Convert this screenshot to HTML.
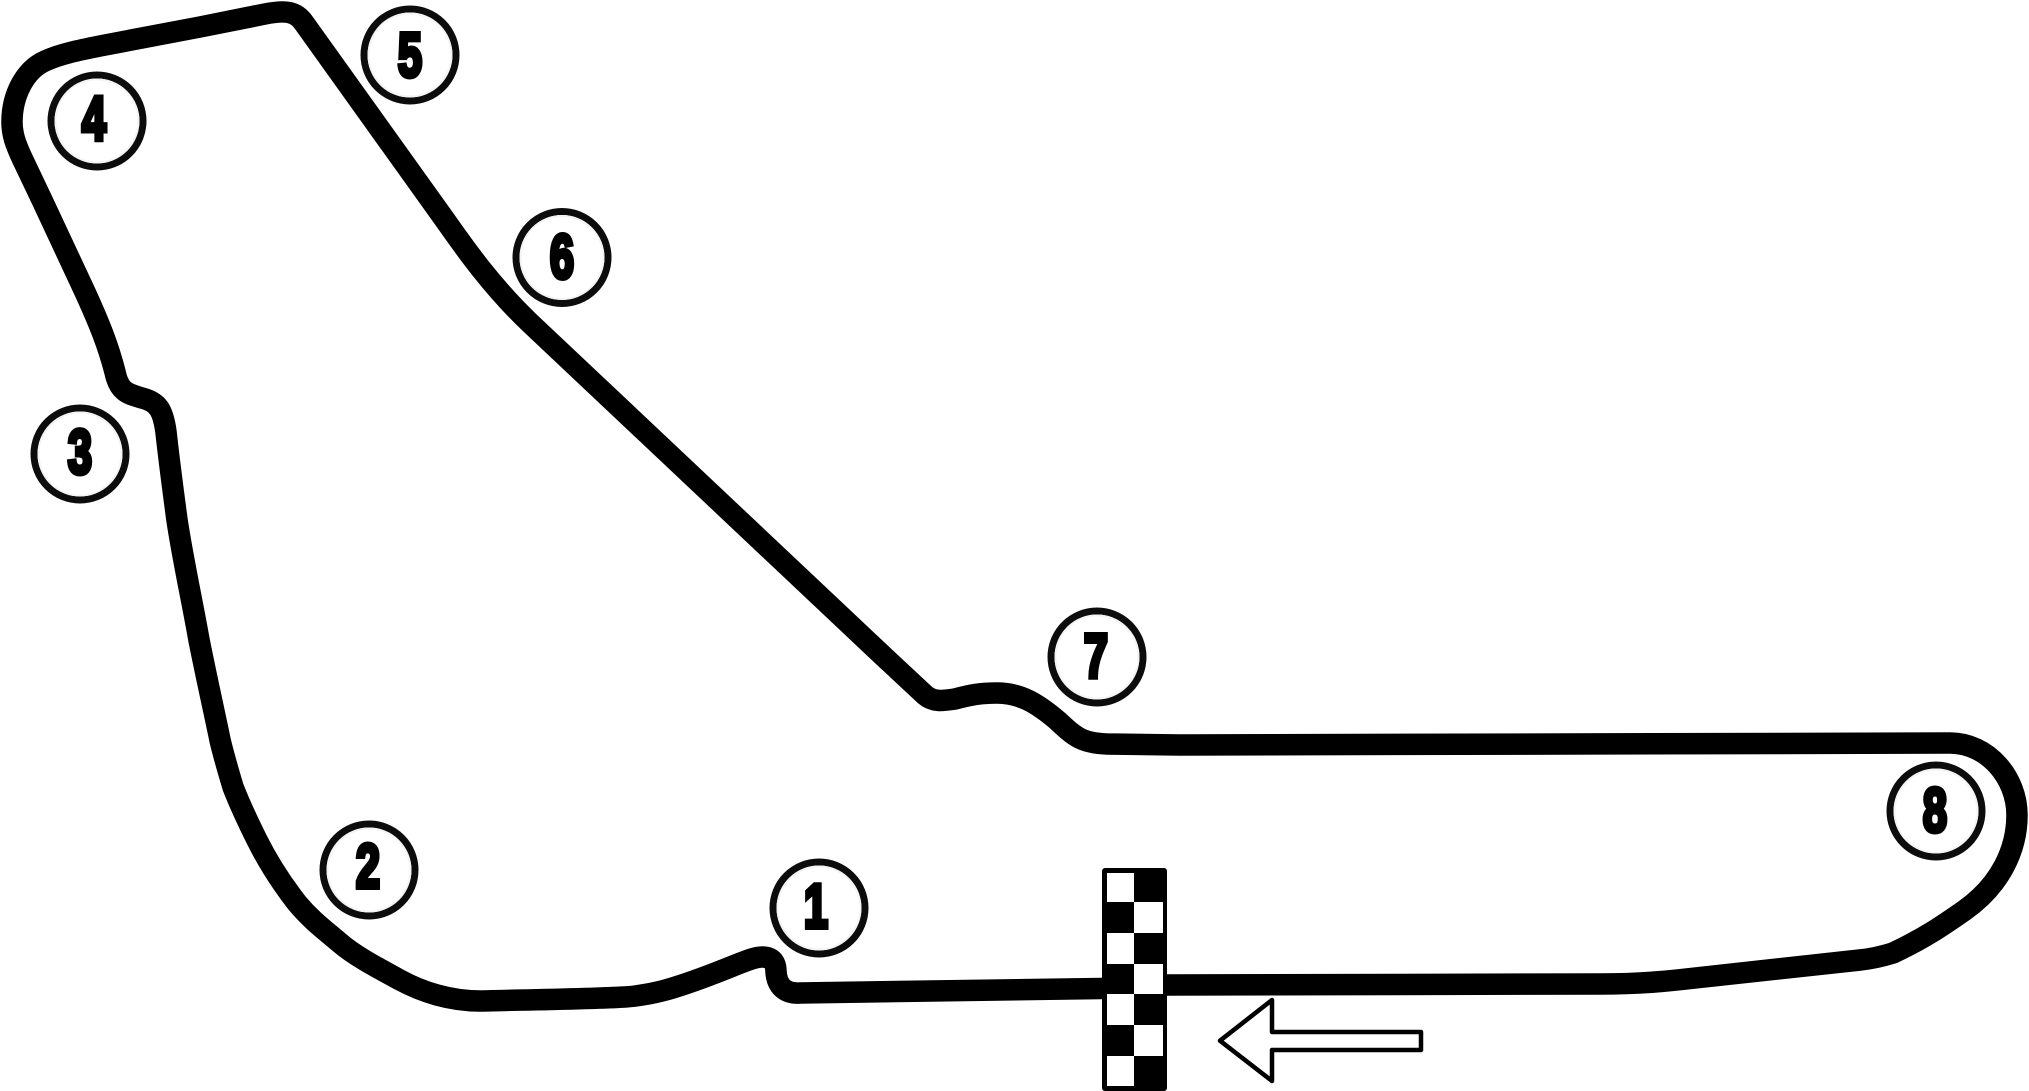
<!DOCTYPE html>
<html><head><meta charset="utf-8"><style>
html,body{margin:0;padding:0;background:#fff;width:2029px;height:1091px;overflow:hidden}
svg{display:block}
text{font-family:"Liberation Sans",sans-serif;font-weight:700;font-size:62px;text-anchor:middle;fill:#000;stroke:#000;stroke-width:5px}
</style></head><body>
<svg width="2029" height="1091" viewBox="0 0 2029 1091" xmlns="http://www.w3.org/2000/svg">
<rect width="2029" height="1091" fill="#fff"/>
<path fill="none" stroke="#000" stroke-width="21.5" stroke-linejoin="round" d="M1135 988L800 993C784 994 777 985 776 972C776 962 772 957 762 957C752 957 735 966 702 978C672 989 652 995 625 997C590 999 520 1000 480 1001C450 1001 422 992 400 980C378 968 355 956 340 943C325 930 313 922 297 903C283 885 270 866 257 840C247 820 240 805 233 787C228 770 224 757 220 740C216 720 207 680 199 640C192 600 183 560 177 520C173 490 169 460 166 432C163 410 158 402 142 398C128 394 119 392 115 372C108 345 100 325 85 292L42 200L22 158C16 145 12 135 12 122C12 95 25 70 45 61C60 54 80 50 100 46L200 27L265 14C285 10 296 11 304 23L445 220C462 244 490 285 530 323L880 653L925 695C933 702 942 701 955 699C970 695 980 693 997 693C1020 693 1037 703 1058 721C1075 737 1082 743 1107 744L1180 745L1950 743C1988 743 2017 778 2017 815C2017 850 2000 885 1965 910C1945 924 1925 938 1893 953C1880 957 1870 959 1860 960L1677 980C1650 983 1630 984 1600 984L1167 985L1135 988Z"/>
<g fill="#fff" stroke="#0c0c0c" stroke-width="7">
<circle cx="819" cy="908" r="46"/><circle cx="369" cy="870" r="46"/><circle cx="80" cy="454" r="46"/><circle cx="97" cy="121" r="46"/><circle cx="410" cy="55" r="46"/><circle cx="562" cy="257.5" r="46"/><circle cx="1097" cy="657" r="46"/><circle cx="1936" cy="811" r="46"/>
</g>
<g fill="none" stroke="#f4f4f4" stroke-width="2">
<circle cx="819" cy="908" r="41.5"/><circle cx="369" cy="870" r="41.5"/><circle cx="80" cy="454" r="41.5"/><circle cx="97" cy="121" r="41.5"/><circle cx="410" cy="55" r="41.5"/><circle cx="562" cy="257.5" r="41.5"/><circle cx="1097" cy="657" r="41.5"/><circle cx="1936" cy="811" r="41.5"/>
</g>
<text transform="translate(816,927.5) scale(.7,1)">1</text>
<text transform="translate(368,887.5) scale(.7,1)">2</text>
<text transform="translate(80,473.5) scale(.7,1)">3</text>
<text transform="translate(94,139.5) scale(.7,1)">4</text>
<text transform="translate(410,76.5) scale(.7,1)">5</text>
<text transform="translate(562,278) scale(.7,1)">6</text>
<text transform="translate(1096,677.5) scale(.7,1)">7</text>
<text transform="translate(1935,831.5) scale(.7,1)">8</text>
<rect x="1102" y="868" width="65" height="223" rx="3" fill="#000"/>
<g fill="#fff">
<rect x="1107" y="873" width="27" height="29"/>
<rect x="1134" y="902" width="29" height="31"/>
<rect x="1107" y="933" width="27" height="31"/>
<rect x="1134" y="964" width="29" height="30"/>
<rect x="1107" y="994" width="27" height="31"/>
<rect x="1134" y="1025" width="29" height="31"/>
<rect x="1107" y="1056" width="27" height="30"/>
</g>
<path d="M1220 1040.7L1272 1000V1032H1421V1050H1272V1081Z" fill="#fff" stroke="#000" stroke-width="4.5" stroke-linejoin="round"/>
</svg>
</body></html>
